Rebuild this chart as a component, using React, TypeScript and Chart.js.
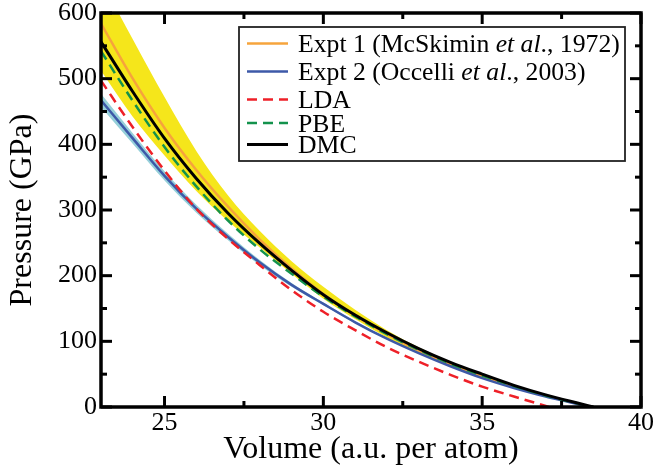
import React, { useEffect, useRef } from 'react';
import { Chart, registerables } from 'chart.js';

Chart.register(...registerables);

// ---------------- data ----------------
const volumeGrid = [23, 24, 25, 26, 27, 28, 29, 30, 31, 32, 33, 34, 35, 36, 37, 38];

const expt1Pressure = [584, 500, 425, 361, 305, 255, 211, 172, 139, 111, 86, 65, 47, 31, 17, 5];
const expt1Upper = [650, 560, 472, 390, 322, 268, 222, 183, 148, 117, 91, 69, 50, 33, 18, 6];
const expt1Lower = [512, 442, 383, 329, 283, 243, 203, 165, 134, 106, 82, 62, 44, 28.5, 15.5, 4.5];
const expt1ZeroVolume = 38.4;

const expt2Pressure = [467, 409, 352, 302, 259, 220, 186, 157, 129, 104, 82, 62, 44, 29, 16, 4.5];
const expt2Upper = [477, 417, 359, 308, 264, 224, 189, 159, 130.5, 105, 82.5, 62.5, 44, 29, 16, 4.5];
const expt2Lower = [457, 401, 345, 296, 254, 216, 183, 155, 127.5, 103, 81.5, 61.5, 44, 29, 16, 4.5];
const expt2ZeroVolume = 38.3;

const ldaPressure = [497, 426, 360, 302, 256, 216, 178, 145, 117, 91, 69, 49, 31, 16, 1.5, null];
const ldaZeroVolume = 37.1;

const pbePressure = [542, 466, 396, 336, 284, 240, 203, 168, 138, 111, 87, 66, 48, 32, 17.5, 5.5];
const pbeZeroVolume = 38.5;

const dmcPressure = [556, 480, 409, 348, 295, 249, 208, 171, 140, 113, 89, 68, 50, 33, 18.5, 6];
const dmcZeroVolume = 38.5;

const xMajorTicks = [25, 30, 35, 40];
const xMinorTicks = [27.5, 32.5, 37.5];
const yMajorTicks = [0, 100, 200, 300, 400, 500, 600];
const yMinorTicks = [50, 150, 250, 350, 450, 550];

const legendExpt1 = [
  { text: 'Expt 1 (McSkimin ', italic: false },
  { text: 'et al', italic: true },
  { text: '., 1972)', italic: false },
];
const legendExpt2 = [
  { text: 'Expt 2 (Occelli ', italic: false },
  { text: 'et al', italic: true },
  { text: '., 2003)', italic: false },
];
const legendLDA = [{ text: 'LDA', italic: false }];
const legendPBE = [{ text: 'PBE', italic: false }];
const legendDMC = [{ text: 'DMC', italic: false }];

// ---------------- helpers ----------------
const FONT = "'Liberation Serif', 'Times New Roman', serif";

function toPoints(values: (number | null)[], zeroVolume: number) {
  const pts: { x: number; y: number }[] = [];
  volumeGrid.forEach((v, i) => {
    const p = values[i];
    if (p !== null && v < zeroVolume) pts.push({ x: v, y: p });
  });
  pts.push({ x: zeroVolume, y: 0 });
  return pts;
}

const framePlugin = {
  id: 'frameTicksLegend',
  afterDatasetsDraw(chart: any) {
    const { ctx, chartArea: a, scales } = chart;
    const xs = scales.x;
    const ys = scales.y;
    ctx.save();
    ctx.strokeStyle = '#000';
    ctx.lineCap = 'butt';

    const line = (x1: number, y1: number, x2: number, y2: number) => {
      ctx.beginPath();
      ctx.moveTo(x1, y1);
      ctx.lineTo(x2, y2);
      ctx.stroke();
    };

    // ticks
    ctx.lineWidth = 3;
    const majorLen = 11;
    const minorLen = 6;
    xMajorTicks.forEach((v) => {
      const px = xs.getPixelForValue(v);
      line(px, a.bottom, px, a.bottom - majorLen);
      line(px, a.top, px, a.top + majorLen);
    });
    xMinorTicks.forEach((v) => {
      const px = xs.getPixelForValue(v);
      line(px, a.bottom, px, a.bottom - minorLen);
      line(px, a.top, px, a.top + minorLen);
    });
    yMajorTicks.forEach((v) => {
      const py = ys.getPixelForValue(v);
      line(a.left, py, a.left + majorLen, py);
      line(a.right, py, a.right - majorLen, py);
    });
    yMinorTicks.forEach((v) => {
      const py = ys.getPixelForValue(v);
      line(a.left, py, a.left + minorLen, py);
      line(a.right, py, a.right - minorLen, py);
    });

    // frame
    ctx.lineWidth = 3.5;
    ctx.strokeRect(a.left, a.top, a.right - a.left, a.bottom - a.top);

    // legend
    const boxL = 239, boxT = 27, boxR = 625, boxB = 161;
    ctx.fillStyle = '#fff';
    ctx.fillRect(boxL, boxT, boxR - boxL, boxB - boxT);
    ctx.lineWidth = 1.8;
    ctx.strokeStyle = '#222';
    ctx.strokeRect(boxL, boxT, boxR - boxL, boxB - boxT);

    const baselines = [52, 80, 108, 131.5, 153];
    const entries = chart.data.datasets
      .filter((d: any) => d.legendParts)
      .sort((p: any, q: any) => p.legendRank - q.legendRank);
    entries.forEach((d: any, i: number) => {
      const base = baselines[i];
      const ly = base - 8.5;
      ctx.save();
      ctx.strokeStyle = d.borderColor;
      ctx.lineWidth = d.borderWidth;
      ctx.setLineDash(d.borderDash || []);
      line(247, ly, 288, ly);
      ctx.restore();
      let tx = 298;
      ctx.fillStyle = '#000';
      ctx.textBaseline = 'alphabetic';
      ctx.textAlign = 'left';
      d.legendParts.forEach((part: any) => {
        ctx.font = `${part.italic ? 'italic ' : ''}25.7px ${FONT}`;
        ctx.fillText(part.text, tx, base);
        tx += ctx.measureText(part.text).width;
      });
    });
    ctx.restore();
  },
};

export default function App() {
  const canvasRef = useRef<HTMLCanvasElement | null>(null);

  useEffect(() => {
    const canvas = canvasRef.current;
    if (!canvas) return;

    const common = {
      pointRadius: 0,
      pointHoverRadius: 0,
      cubicInterpolationMode: 'monotone',
    };

    const chart = new Chart(canvas, {
      type: 'line',
      data: {
        datasets: [
          {
            ...common,
            label: 'Expt 1 upper',
            data: toPoints(expt1Upper, expt1ZeroVolume),
            borderWidth: 0,
            borderColor: 'rgba(0,0,0,0)',
            backgroundColor: '#F5E61B',
            fill: '+1',
            order: 20,
          },
          {
            ...common,
            label: 'Expt 1 lower',
            data: toPoints(expt1Lower, expt1ZeroVolume),
            borderWidth: 0,
            borderColor: 'rgba(0,0,0,0)',
            fill: false,
            order: 19,
          },
          {
            ...common,
            label: 'Expt 2 upper',
            data: toPoints(expt2Upper, expt2ZeroVolume),
            borderWidth: 0,
            borderColor: 'rgba(0,0,0,0)',
            backgroundColor: '#96D0DA',
            fill: '+1',
            order: 18,
          },
          {
            ...common,
            label: 'Expt 2 lower',
            data: toPoints(expt2Lower, expt2ZeroVolume),
            borderWidth: 0,
            borderColor: 'rgba(0,0,0,0)',
            fill: false,
            order: 17,
          },
          {
            ...common,
            label: 'Expt 1',
            legendParts: legendExpt1,
            legendRank: 0,
            data: toPoints(expt1Pressure, expt1ZeroVolume),
            borderColor: '#F6A43C',
            borderWidth: 2.5,
            fill: false,
            order: 6,
          },
          {
            ...common,
            label: 'Expt 2',
            legendParts: legendExpt2,
            legendRank: 1,
            data: toPoints(expt2Pressure, expt2ZeroVolume),
            borderColor: '#3D59A8',
            borderWidth: 2.5,
            fill: false,
            order: 5,
          },
          {
            ...common,
            label: 'LDA',
            legendParts: legendLDA,
            legendRank: 2,
            data: toPoints(ldaPressure, ldaZeroVolume),
            borderColor: '#EE2028',
            borderWidth: 2.5,
            borderDash: [10, 6],
            fill: false,
            order: 4,
          },
          {
            ...common,
            label: 'PBE',
            legendParts: legendPBE,
            legendRank: 3,
            data: toPoints(pbePressure, pbeZeroVolume),
            borderColor: '#13924C',
            borderWidth: 2.5,
            borderDash: [10, 6],
            fill: false,
            order: 3,
          },
          {
            ...common,
            label: 'DMC',
            legendParts: legendDMC,
            legendRank: 4,
            data: toPoints(dmcPressure, dmcZeroVolume),
            borderColor: '#000000',
            borderWidth: 3,
            fill: false,
            order: 1,
          },
        ],
      } as any,
      options: {
        animation: false,
        responsive: false,
        events: [],
        layout: { padding: { left: 7, right: 15, top: 13, bottom: 4 } },
        plugins: {
          legend: { display: false },
          tooltip: { enabled: false },
        },
        scales: {
          x: {
            type: 'linear',
            min: 23,
            max: 40,
            grid: { display: false, drawTicks: false },
            border: { display: false },
            afterBuildTicks: (s: any) => {
              s.ticks = xMajorTicks.map((v) => ({ value: v }));
            },
            afterFit: (s: any) => {
              s.height = 59;
              s.paddingLeft = 0;
              s.paddingRight = 0;
            },
            ticks: {
              color: '#000',
              padding: 3,
              maxRotation: 0,
              autoSkip: false,
              font: { family: FONT, size: 26, lineHeight: 1 },
            },
            title: {
              display: true,
              text: 'Volume (a.u. per atom)',
              color: '#000',
              padding: 0,
              font: { family: FONT, size: 32, lineHeight: 1 },
            },
          },
          y: {
            type: 'linear',
            min: 0,
            max: 600,
            grid: { display: false, drawTicks: false },
            border: { display: false },
            afterBuildTicks: (s: any) => {
              s.ticks = yMajorTicks.map((v) => ({ value: v }));
            },
            afterFit: (s: any) => {
              s.width = 94;
              s.paddingTop = 0;
              s.paddingBottom = 0;
            },
            ticks: {
              color: '#000',
              padding: 4,
              autoSkip: false,
              font: { family: FONT, size: 26, lineHeight: 1 },
            },
            title: {
              display: true,
              text: 'Pressure (GPa)',
              color: '#000',
              padding: 0,
              font: { family: FONT, size: 32, lineHeight: 1 },
            },
          },
        },
      } as any,
      plugins: [framePlugin],
    });

    return () => {
      chart.destroy();
    };
  }, []);

  return (
    <div style={{ position: 'absolute', left: 0, top: 0, width: 656, height: 470, background: '#fff' }}>
      <canvas ref={canvasRef} width={656} height={470} style={{ display: 'block', width: 656, height: 470 }} />
    </div>
  );
}
